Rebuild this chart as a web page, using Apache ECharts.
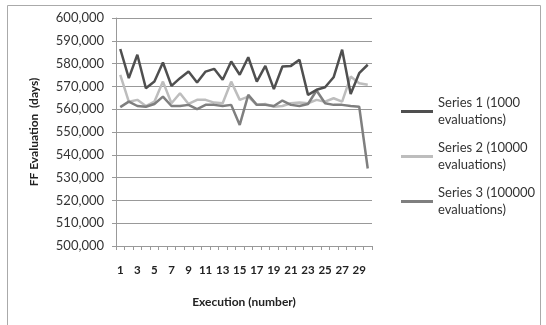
<!DOCTYPE html>
<html>
<head>
<meta charset="utf-8">
<script src="https://cdn.jsdelivr.net/npm/echarts@6/dist/echarts.min.js"></script>
<style>
  html, body { margin: 0; padding: 0; background: #fff; }
  #chart { width: 546px; height: 325px; }
</style>
</head>
<body>
<div id="chart"></div>
<script>
// 数据
var categories = ['1','2','3','4','5','6','7','8','9','10','11','12','13','14','15',
  '16','17','18','19','20','21','22','23','24','25','26','27','28','29','30'];
var seriesNames = ['Series 1 (1000\nevaluations)', 'Series 2 (10000\nevaluations)', 'Series 3 (100000\nevaluations)'];
var series1 = [586400, 573600, 583900, 569200, 572100, 580500, 570200, 573600, 576500, 571700,
  576500, 577700, 572900, 580900, 575100, 582800, 572100, 579000, 568800, 578700,
  579000, 581700, 566300, 568500, 569600, 574000, 586100, 566700, 575800, 579500];
var series2 = [575100, 563300, 564100, 561400, 563300, 572100, 562600, 567000, 562300, 564100,
  564100, 562900, 562600, 572100, 564100, 565500, 561900, 562300, 561100, 561400,
  562600, 562900, 562600, 564100, 563300, 564800, 563300, 574300, 571400, 570700];
var series3 = [560900, 563300, 561400, 561100, 562300, 565500, 561400, 561400, 561900, 560000,
  561900, 561900, 561400, 561900, 553100, 566300, 561900, 561900, 561400, 563800,
  561900, 561400, 562300, 568200, 562600, 561900, 561900, 561400, 561100, 534000];

var chartDom = document.getElementById('chart');
var myChart = echarts.init(chartDom);

var option = {
  animation: false,
  textStyle: { fontFamily: 'Lato' },
  grid: {
    left: 116,
    right: 174,
    top: 18,
    bottom: 79
  },
  legend: {
    orient: 'vertical',
    left: 396,
    top: 81,
    icon: 'rect',
    itemWidth: 32,
    itemHeight: 3,
    itemGap: -6,
    data: seriesNames,
    textStyle: {
      color: '#333',
      fontSize: 13,
      lineHeight: 17,
      padding: [17, 0, 0, 0],
      fontFamily: 'Lato'
    }
  },
  xAxis: {
    type: 'category',
    data: categories,
    boundaryGap: true,
    name: 'Execution (number)',
    nameLocation: 'middle',
    nameGap: 50,
    nameTextStyle: { color: '#222', fontSize: 12, fontWeight: 'bold', fontFamily: 'Lato' },
    axisLine: { lineStyle: { color: '#999', width: 1 } },
    axisTick: { show: true, interval: 0, alignWithLabel: false, length: 4, lineStyle: { color: '#999' } },
    axisLabel: { interval: 1, color: '#222', fontSize: 11.5, fontWeight: 'bold', margin: 18, fontFamily: 'Lato' },
    splitLine: { show: false }
  },
  yAxis: {
    type: 'value',
    min: 500000,
    max: 600000,
    interval: 10000,
    name: 'FF Evaluation  (days)',
    nameLocation: 'middle',
    nameGap: 76,
    nameTextStyle: { color: '#222', fontSize: 12, fontWeight: 'bold', fontFamily: 'Lato' },
    axisLine: { show: true, lineStyle: { color: '#999', width: 1 } },
    axisTick: { show: true, length: 4, lineStyle: { color: '#999' } },
    axisLabel: {
      color: '#333',
      fontSize: 13,
      margin: 12,
      fontFamily: 'Lato',
      formatter: function (v) { return v.toLocaleString('en-US'); }
    },
    splitLine: { show: true, lineStyle: { color: '#999', width: 1 } }
  },
  series: [
    { name: seriesNames[0], type: 'line', data: series1, symbol: 'none', color: '#4f4f4f', lineStyle: { width: 2.5 }, z: 4 },
    { name: seriesNames[1], type: 'line', data: series2, symbol: 'none', color: '#bdbdbd', lineStyle: { width: 2.5 }, z: 2 },
    { name: seriesNames[2], type: 'line', data: series3, symbol: 'none', color: '#7f7f7f', lineStyle: { width: 2.5 }, z: 3 }
  ],
  graphic: {
    elements: [
      {
        type: 'rect',
        left: 5,
        top: 3,
        silent: true,
        shape: { width: 533, height: 340 },
        style: { fill: 'none', stroke: '#aaa', lineWidth: 1 }
      }
    ]
  }
};

myChart.setOption(option);
window.addEventListener('resize', function () {
  myChart.resize();
});
</script>
</body>
</html>
